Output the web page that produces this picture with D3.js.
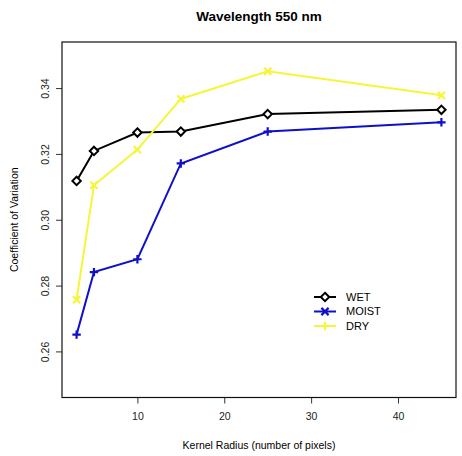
<!DOCTYPE html>
<html>
<head>
<meta charset="utf-8">
<script src="https://cdn.jsdelivr.net/npm/d3@7"></script>
<style>
  html, body { margin: 0; padding: 0; background: #fff; }
  svg { display: block; font-family: "Liberation Sans", Arial, sans-serif; }
</style>
</head>
<body>
<svg id="chart" width="462" height="456"></svg>
<script>
// ---- data ----
const kernelRadius = [3, 5, 10, 15, 25, 45];
const wetValues   = [0.3118, 0.3209, 0.3265, 0.3268, 0.3321, 0.3334];
const moistValues = [0.2651, 0.2841, 0.2880, 0.3171, 0.3268, 0.3296];
const dryValues   = [0.2757, 0.3105, 0.3213, 0.3367, 0.3451, 0.3378];
const seriesNames = ["WET", "MOIST", "DRY"];
const xTicks = [10, 20, 30, 40];
const yTicks = [0.26, 0.28, 0.30, 0.32, 0.34];
const titleText = "Wavelength 550 nm";
const xLabel = "Kernel Radius (number of pixels)";
const yLabel = "Coefficient of Variation";

const series = [
  { name: seriesNames[0], values: wetValues,   color: "#000000", marker: "diamond", legendMarker: "diamond" },
  { name: seriesNames[1], values: moistValues, color: "#1010c8", marker: "plus",    legendMarker: "cross" },
  { name: seriesNames[2], values: dryValues,   color: "#f5f53a", marker: "cross",   legendMarker: "plus" }
];

const svg = d3.select("#chart");
const pLeft = 62, pRight = 456, pTop = 42, pBottom = 397.5;

const x = d3.scaleLinear().domain([1.32, 46.68]).range([pLeft, pRight]);
const y = d3.scaleLinear().domain([0.246, 0.354]).range([pBottom, pTop]);

// title
svg.append("text").attr("x", (pLeft + pRight) / 2).attr("y", 21)
  .attr("text-anchor", "middle").attr("font-weight", "bold").attr("font-size", 13.5)
  .attr("fill", "#000").text(titleText);

// axes
const xAxis = d3.axisBottom(x).tickValues(xTicks).tickSize(6).tickPadding(9).tickFormat(d3.format("d"));
const gx = svg.append("g").attr("transform", `translate(0,${pBottom})`).call(xAxis);
gx.select(".domain").remove();
gx.selectAll("text").attr("font-size", 10.5).attr("fill", "#222").attr("font-family", "Liberation Sans, Arial, sans-serif");
gx.selectAll("line").attr("stroke", "#333");

const yAxis = d3.axisLeft(y).tickValues(yTicks).tickSize(6).tickFormat(d3.format(".2f"));
const gy = svg.append("g").attr("transform", `translate(${pLeft},0)`).call(yAxis);
gy.select(".domain").remove();
gy.selectAll("line").attr("stroke", "#333");
gy.selectAll(".tick text")
  .attr("font-size", 10.5).attr("fill", "#222").attr("font-family", "Liberation Sans, Arial, sans-serif")
  .attr("text-anchor", "middle")
  .attr("x", 0).attr("y", 0).attr("dy", "0.35em")
  .attr("transform", "translate(-17,0) rotate(-90)");

// axis labels
svg.append("text").attr("x", (pLeft + pRight) / 2).attr("y", 449)
  .attr("text-anchor", "middle").attr("font-size", 10.5).attr("fill", "#000").text(xLabel);
svg.append("text").attr("transform", `translate(18,${(pTop + pBottom) / 2}) rotate(-90)`)
  .attr("text-anchor", "middle").attr("font-size", 10.5).attr("fill", "#000").text(yLabel);

// box
svg.append("rect").attr("x", pLeft).attr("y", pTop).attr("width", pRight - pLeft).attr("height", pBottom - pTop)
  .attr("fill", "none").attr("stroke", "#111").attr("stroke-width", 1.2);

function drawMarker(g, type, cx, cy, color) {
  const s = 3.6;
  if (type === "diamond") {
    g.append("path").attr("d", `M${cx},${cy - s - 0.6}L${cx + s + 0.6},${cy}L${cx},${cy + s + 0.6}L${cx - s - 0.6},${cy}Z`)
      .attr("fill", "#fff").attr("stroke", color).attr("stroke-width", 2);
  } else if (type === "plus") {
    g.append("path").attr("d", `M${cx - s - 0.6},${cy}H${cx + s + 0.6}M${cx},${cy - s - 0.6}V${cy + s + 0.6}`)
      .attr("stroke", color).attr("stroke-width", 2.2).attr("fill", "none");
  } else {
    g.append("path").attr("d", `M${cx - s},${cy - s}L${cx + s},${cy + s}M${cx - s},${cy + s}L${cx + s},${cy - s}`)
      .attr("stroke", color).attr("stroke-width", 2.2).attr("fill", "none");
  }
}

const line = d3.line().x((d, i) => x(kernelRadius[i])).y(d => y(d));
series.forEach(s => {
  const g = svg.append("g");
  g.append("path").datum(s.values).attr("d", line)
    .attr("fill", "none").attr("stroke", s.color).attr("stroke-width", 2);
  s.values.forEach((v, i) => drawMarker(g, s.marker, x(kernelRadius[i]), y(v), s.color));
});

// legend
const legY = [297, 311.5, 326];
series.forEach((s, i) => {
  const g = svg.append("g");
  g.append("line").attr("x1", 314).attr("x2", 336).attr("y1", legY[i]).attr("y2", legY[i])
    .attr("stroke", s.color).attr("stroke-width", 2);
  drawMarker(g, s.legendMarker, 325, legY[i], s.color);
  g.append("text").attr("x", 346).attr("y", legY[i]).attr("dy", "0.36em")
    .attr("font-size", 11).attr("fill", "#000").text(s.name);
});
</script>
</body>
</html>
